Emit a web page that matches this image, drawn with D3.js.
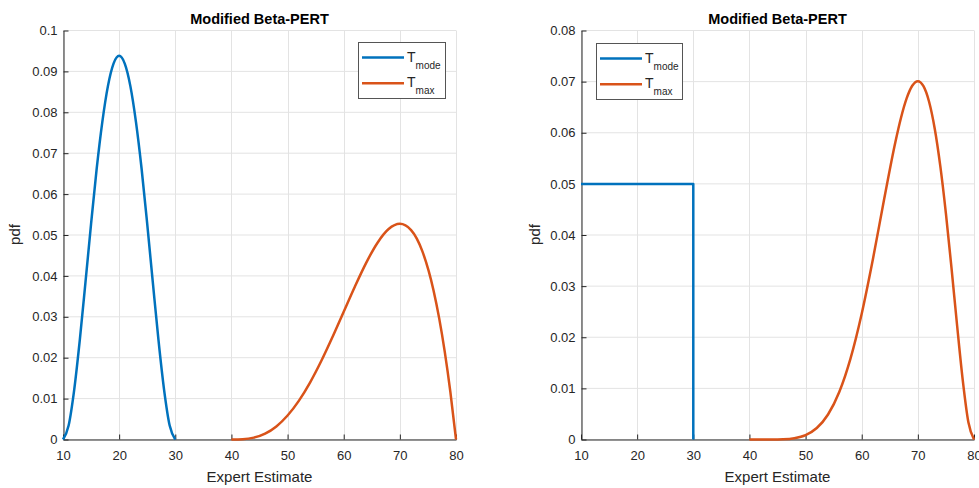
<!DOCTYPE html>
<html><head><meta charset="utf-8">
<script src="https://cdn.jsdelivr.net/npm/d3@7"></script>
<style>
body{margin:0;background:#fff;}
svg{display:block;font-family:"Liberation Sans",Arial,sans-serif;}
</style></head>
<body><svg id="c" width="979" height="488"></svg>
<script>
// ---- data ----
const xTicks = [10,20,30,40,50,60,70,80];
const yTicksLeft = [0,0.01,0.02,0.03,0.04,0.05,0.06,0.07,0.08,0.09,0.1];
const yTicksRight = [0,0.01,0.02,0.03,0.04,0.05,0.06,0.07,0.08];
const legendLabels = [["T","mode"],["T","max"]];

// Left panel, T_mode
const leftModeX = [10,11,12,13,14,15,16,17,18,19,20,21,22,23,24,25,26,27,28,29,30];
const leftModeY = [0,0.0034,0.0122,0.0244,0.0384,0.0527,0.0662,0.0776,0.0864,0.0919,0.0938,0.0919,0.0864,0.0776,0.0662,0.0527,0.0384,0.0244,0.0122,0.0034,0];
// Left panel, T_max
const leftMaxX = [40,42,44,46,48,50,52,54,56,58,60,62,64,66,68,70,72,74,76,77,78,79,80];
const leftMaxY = [0,0.00006,0.00045,0.00143,0.0032,0.00586,0.00945,0.01393,0.0192,0.02506,0.03125,0.03743,0.0432,0.04806,0.05145,0.05273,0.0512,0.04606,0.03645,0.02968,0.02143,0.01159,0];
// Right panel, T_mode
const rightModeX = [10,30,30];
const rightModeY = [0.05,0.05,0];
// Right panel, T_max
const rightMaxX = [40,44,46,48,50,52,54,56,58,60,62,64,66,67,68,69,70,71,72,73,74,75,76,77,78,79,80];
const rightMaxY = [0,0.000005,0.00005,0.00026,0.00087,0.00225,0.00489,0.00929,0.01583,0.02461,0.03531,0.04703,0.0582,0.06294,0.06671,0.06919,0.07008,0.06911,0.06606,0.06083,0.05346,0.04418,0.03348,0.0222,0.01158,0.00338,0];

const blue = "#0072BD", orange = "#D95319";
const axisCol = "#262626", gridCol = "#e3e3e3";

const svg = d3.select("#c");

function panel(opt){
  const x = d3.scaleLinear().domain([10,80]).range([opt.x0, opt.x1]);
  const y = d3.scaleLinear().domain([0, opt.ymax]).range([439.5, 30.5]);
  const g = svg.append("g");
  // grid
  g.selectAll(".gx").data(xTicks).enter().append("line")
    .attr("x1",d=>Math.round(x(d))+0.5).attr("x2",d=>Math.round(x(d))+0.5)
    .attr("y1",y(0)).attr("y2",y(opt.ymax)).attr("stroke",gridCol).attr("stroke-width",1);
  g.selectAll(".gy").data(opt.yTicks).enter().append("line")
    .attr("y1",d=>y(d)).attr("y2",d=>y(d))
    .attr("x1",x(10)).attr("x2",x(80)).attr("stroke",gridCol).attr("stroke-width",1);
  // axes
  const xa = g.append("g").attr("transform",`translate(0,${y(0)})`)
    .call(d3.axisBottom(x).tickValues(xTicks).tickSizeInner(-5).tickSizeOuter(0).tickPadding(11).tickFormat(d3.format("d")));
  const ya = g.append("g").attr("transform",`translate(${Math.round(x(10))+0.5},0)`)
    .call(d3.axisLeft(y).tickValues(opt.yTicks).tickSizeInner(-5).tickSizeOuter(0).tickPadding(6).tickFormat(d=>d===0?"0":String(+d.toFixed(2))));
  [xa,ya].forEach(a=>{
    a.select(".domain").attr("stroke",axisCol);
    a.selectAll(".tick line").attr("stroke",axisCol);
    a.selectAll(".tick text").attr("fill",axisCol).attr("font-size",13).attr("font-family",null);
  });
  // labels
  g.append("text").attr("x",(opt.x0+opt.x1)/2).attr("y",482).attr("text-anchor","middle")
    .attr("font-size",15).attr("fill",axisCol).text("Expert Estimate");
  g.append("text").attr("transform",`translate(${opt.x0-opt.pdfOff},${(30+439)/2}) rotate(-90)`)
    .attr("text-anchor","middle").attr("font-size",15).attr("fill",axisCol).text("pdf");
  g.append("text").attr("x",(opt.x0+opt.x1)/2).attr("y",24).attr("text-anchor","middle")
    .attr("font-size",14.5).attr("font-weight","bold").attr("fill","#000").text("Modified Beta-PERT");
  // lines
  const line = d3.line().x(d=>x(d[0])).y(d=>y(d[1]));
  const curved = d3.line().x(d=>x(d[0])).y(d=>y(d[1])).curve(d3.curveMonotoneX);
  g.append("path").datum(d3.zip(opt.mX,opt.mY)).attr("d", opt.modeLinear?line:curved)
    .attr("fill","none").attr("stroke",blue).attr("stroke-width",2.5).attr("stroke-linejoin","round");
  g.append("path").datum(d3.zip(opt.xX,opt.xY)).attr("d", curved)
    .attr("fill","none").attr("stroke",orange).attr("stroke-width",2.5).attr("stroke-linejoin","round");
  // legend
  const L = opt.leg;
  const lg = g.append("g").attr("transform",`translate(${L.x},${L.y})`);
  lg.append("rect").attr("x",0.5).attr("y",0.5).attr("width",L.w).attr("height",L.h)
    .attr("fill","#fff").attr("stroke","#555").attr("stroke-width",1);
  [blue,orange].forEach((c,i)=>{
    const yy = 15.5 + i*25.7;
    lg.append("line").attr("x1",4).attr("x2",46).attr("y1",yy).attr("y2",yy).attr("stroke",c).attr("stroke-width",2.5);
    const t = lg.append("text").attr("x",49).attr("y",yy+4).attr("font-size",14).attr("fill",axisCol);
    t.append("tspan").text(legendLabels[i][0]);
    t.append("tspan").attr("dy",7).attr("font-size",10).text(legendLabels[i][1]);
  });
}

panel({x0:63, x1:456, ymax:0.1, yTicks:yTicksLeft, pdfOff:43,
  mX:leftModeX, mY:leftModeY, xX:leftMaxX, xY:leftMaxY, modeLinear:false,
  leg:{x:358, y:42, w:87, h:56}});
panel({x0:581, x1:974, ymax:0.08, yTicks:yTicksRight, pdfOff:41,
  mX:rightModeX, mY:rightModeY, xX:rightMaxX, xY:rightMaxY, modeLinear:true,
  leg:{x:596, y:43, w:86, h:56}});
</script></body></html>
